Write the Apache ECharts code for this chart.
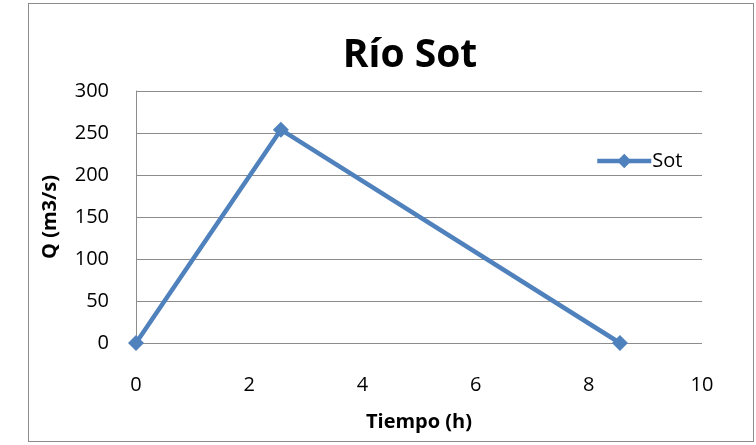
<!DOCTYPE html>
<html>
<head>
<meta charset="utf-8">
<script src="https://cdn.jsdelivr.net/npm/echarts@6/dist/echarts.min.js"></script>
<style>
  html, body { margin: 0; padding: 0; background: #fff; }
  #frame { position: absolute; left: 28px; top: 3px; width: 726px; height: 439px; border: 1px solid #8c8c8c; box-sizing: border-box; }
  #chart { position: absolute; left: 0; top: 0; width: 756px; height: 445px; }
</style>
</head>
<body>
<div id="frame"></div>
<div id="chart"></div>
<script>
// hydrograph points (time h, flow m3/s)
var tiempo = [0, 2.56, 8.55]
var caudal = [0, 254, 0]
var seriesName = 'Sot'

var points = []
for (var i = 0; i < tiempo.length; i++) {
  points.push([tiempo[i], caudal[i]])
}

var font = '"Open Sans", "Liberation Sans", sans-serif'
var chart = echarts.init(document.getElementById('chart'))
chart.setOption({
  animation: false,
  title: {
    text: 'Río Sot',
    left: 405,
    textAlign: 'center',
    top: 31,
    textStyle: { fontFamily: font, fontSize: 39, fontWeight: 'bold', color: '#000' }
  },
  legend: {
    left: 590,
    top: 146,
    itemWidth: 54,
    itemHeight: 18,
    itemGap: 2,
    lineStyle: { width: 4.5, color: '#4f81bd' },
    textStyle: { fontFamily: font, fontSize: 20, color: '#000', padding: [0, 0, 0, -4] },
    data: [seriesName]
  },
  grid: { left: 136, right: 54, top: 91, bottom: 102 },
  xAxis: {
    type: 'value',
    min: 0,
    max: 10,
    interval: 2,
    name: 'Tiempo (h)',
    nameLocation: 'middle',
    nameGap: 69,
    nameTextStyle: { fontFamily: font, fontSize: 20, fontWeight: 'bold', color: '#000' },
    axisLine: { show: false },
    axisTick: { show: false },
    splitLine: { show: false },
    axisLabel: { fontFamily: font, fontSize: 20, color: '#000', margin: 32 }
  },
  yAxis: {
    type: 'value',
    min: 0,
    max: 300,
    interval: 50,
    name: 'Q (m3/s)',
    nameLocation: 'middle',
    nameGap: 76,
    nameTextStyle: { fontFamily: font, fontSize: 20, fontWeight: 'bold', color: '#000' },
    axisLine: { show: true, lineStyle: { color: '#8c8c8c', width: 1 } },
    axisTick: { show: false },
    splitLine: { show: true, lineStyle: { color: '#8c8c8c', width: 1 } },
    axisLabel: { fontFamily: font, fontSize: 20, color: '#000', margin: 27 }
  },
  series: [{
    name: seriesName,
    type: 'line',
    data: points,
    symbol: 'diamond',
    symbolSize: 16,
    lineStyle: { color: '#4f81bd', width: 4.5 },
    itemStyle: { color: '#4f81bd' }
  }]
})
</script>
</body>
</html>
